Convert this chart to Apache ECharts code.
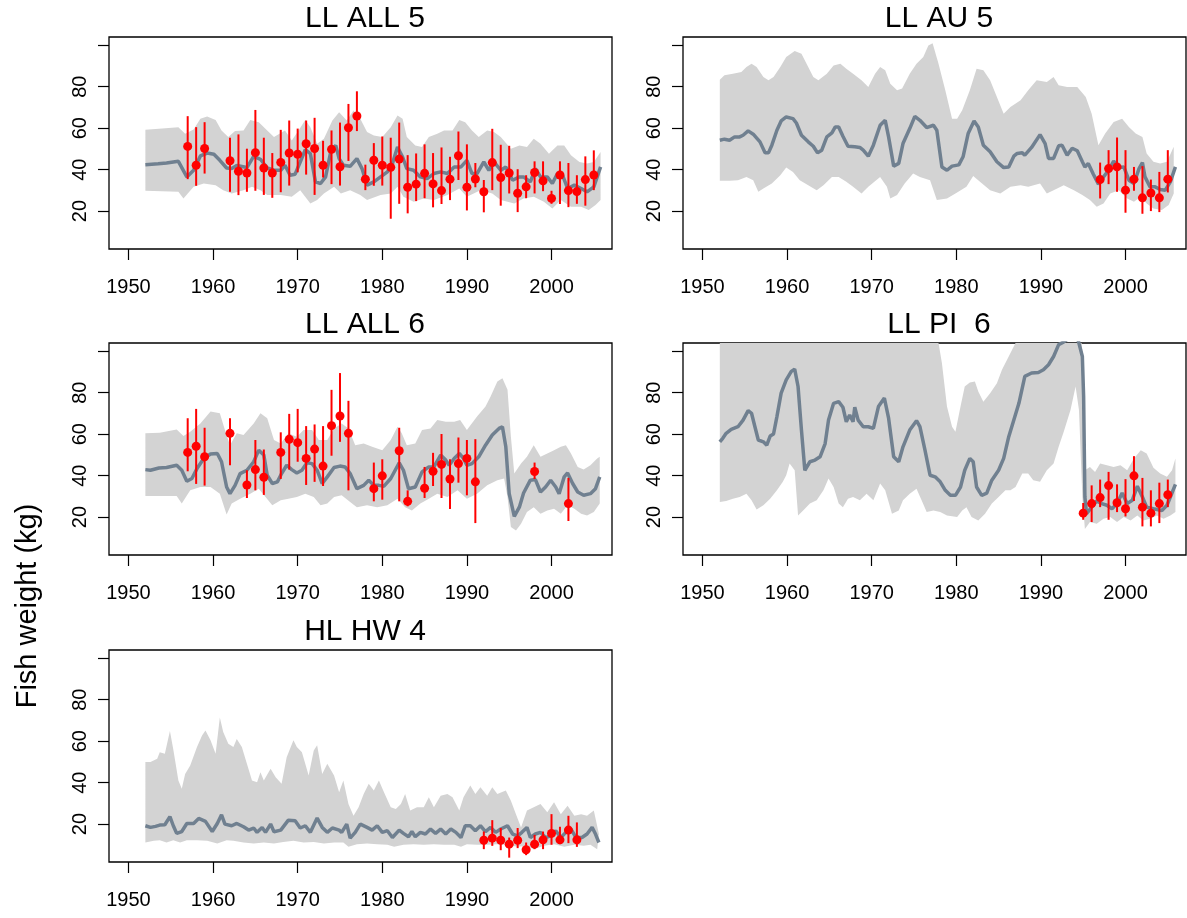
<!DOCTYPE html>
<html><head><meta charset="utf-8">
<script src="https://cdn.jsdelivr.net/npm/echarts@6/dist/echarts.min.js"></script>
<style>html,body{margin:0;padding:0;background:#fff}#c{width:1187px;height:918px}</style>
</head><body><div id="c"></div>
<script>
const titles = ['LL ALL 5', 'LL AU 5', 'LL ALL 6', 'LL PI  6', 'HL HW 4'];
const yAxisTitle = 'Fish weight (kg)';
const xTicks = [1950, 1960, 1970, 1980, 1990, 2000];
const yTicks = [20, 40, 60, 80, 100];
const yLabels = [20, 40, 60, 80];

// ---- LL ALL 5 ----
const all5Mean = [[1952.0,42.4],[1953.5,42.8],[1954.5,43.2],[1955.9,44],[1956.9,36.5],[1957.7,39.7],[1958.5,46.6],[1959.3,48],[1960.1,47.4],[1960.8,44.5],[1961.6,40.8],[1962.2,40.5],[1962.8,42],[1964.0,41],[1964.8,46.4],[1965.6,45],[1966.4,40.8],[1967.2,39.7],[1968.0,39.7],[1968.5,42.1],[1969.1,37.3],[1969.7,37.8],[1970.3,43.7],[1970.9,49.6],[1971.5,47.7],[1972.1,34.1],[1972.7,33.3],[1973.3,36.5],[1973.9,48.5],[1974.5,51.7],[1974.9,45.3],[1975.4,42.1],[1976.2,41.6],[1977.0,45.3],[1977.6,40.5],[1978.2,32.5],[1979.0,34.1],[1979.8,36.5],[1980.6,38.9],[1981.2,42.9],[1981.8,50.9],[1982.4,46.1],[1982.9,40.5],[1983.7,39.7],[1984.5,36.5],[1985.3,35.7],[1986.1,38.1],[1986.9,38.9],[1987.7,38.1],[1988.5,41.3],[1989.3,41.3],[1990.0,44.5],[1990.6,38.1],[1991.2,38.1],[1992.0,43.7],[1992.6,39.7],[1993.2,43.7],[1994.0,39.7],[1994.6,41.3],[1995.4,34.9],[1996.2,36.5],[1996.7,36.5],[1997.5,34.1],[1998.1,40.5],[1998.7,36.5],[1999.5,36.5],[2000.1,33.3],[2000.7,38.1],[2001.3,37.3],[2001.9,30.9],[2002.7,32.5],[2003.5,30.9],[2004.2,29.3],[2005.0,31.7],[2005.8,41.3]];
const all5Upper = [[1952.0,59.2],[1953.6,59.7],[1955.9,60.5],[1956.7,57.3],[1957.7,59.4],[1958.5,64.5],[1959.3,65.6],[1960.3,64],[1961.0,58.9],[1961.8,55.7],[1962.6,58.6],[1963.6,58.9],[1964.4,64],[1965.4,62.9],[1966.4,58.9],[1967.2,55.7],[1968.5,58.9],[1969.3,54.1],[1970.1,58.9],[1970.9,64],[1971.5,60.5],[1972.3,52.5],[1973.1,54.9],[1974.1,63.7],[1974.9,67.7],[1975.8,63.7],[1976.6,68.5],[1977.4,64.5],[1978.2,58.1],[1979.0,56.5],[1980.0,55.7],[1981.0,60.5],[1981.8,66.1],[1982.4,64.5],[1982.9,55.7],[1983.9,51.7],[1984.7,50.9],[1985.5,55.7],[1986.5,57.3],[1987.3,58.9],[1988.3,58.9],[1989.1,64],[1989.8,62.9],[1990.6,58.9],[1991.4,55.7],[1992.4,58.9],[1993.2,58.1],[1994.0,55.7],[1995.2,50.1],[1996.2,51.7],[1997.1,50.9],[1997.9,54.9],[1998.7,52.5],[1999.7,47.7],[2000.7,51.7],[2001.5,51.7],[2002.3,46.9],[2003.3,43.7],[2004.2,42.9],[2005.0,43.7],[2005.8,48.5]];
const all5Lower = [[1952.0,29.8],[1955.9,29.3],[1956.5,26.1],[1957.7,31.7],[1958.9,33.3],[1960.3,32.5],[1961.2,30.1],[1962.2,28.5],[1963.6,30.1],[1964.6,31.7],[1965.6,30.1],[1966.4,27.7],[1968.0,27.7],[1969.3,26.9],[1970.3,30.1],[1971.5,23.7],[1972.3,25.3],[1973.1,28.5],[1974.3,31.7],[1975.1,28.5],[1976.2,30.1],[1977.4,27.7],[1978.2,25.3],[1979.8,27.7],[1981.0,28.5],[1981.8,31.7],[1982.5,26.9],[1983.7,24.5],[1984.9,26.1],[1986.1,25.3],[1987.7,27.7],[1989.1,30.9],[1990.0,26.9],[1991.6,30.1],[1993.0,28.5],[1994.0,25.3],[1995.6,23.7],[1996.7,26.1],[1997.9,26.9],[1999.1,24.5],[2000.1,21.3],[2001.1,25.3],[2002.3,22.1],[2003.5,22.1],[2004.4,20.5],[2005.2,22.9],[2005.8,25.3]];
const all5ObsYears = [1957,1958,1959,1962,1963,1964,1965,1966,1967,1968,1969,1970,1971,1972,1973,1974,1975,1976,1977,1978,1979,1980,1981,1982,1983,1984,1985,1986,1987,1988,1989,1990,1991,1992,1993,1994,1995,1996,1997,1998,1999,2000,2001,2002,2003,2004,2005];
const all5Obs = [51.2,42.1,50.2,44.3,39.2,38.4,48.2,40.8,38.4,43.5,48,47.4,52.5,50.2,42.1,49.8,41.4,60.2,65.9,35.4,44.5,42.1,41.1,45.1,31.5,33,38.2,33.1,29.9,35.4,46.7,31.5,35.5,29.3,43.4,36.2,38.4,28.6,31.7,38.6,34.6,26.1,37.4,29.9,29.4,35.2,37.4];
const all5ObsHigh = [65.8,60.5,62.9,55.4,57,50.1,68.8,55.4,48,59.2,63.7,59.8,63.7,65,53.9,58.9,62.7,71.7,77.8,42.4,52.8,56,55.4,62.7,47,47.8,52.2,48,50.7,46.2,58.4,52.2,43.2,35,59.7,52,51.5,40.2,37.3,44,44,29.8,44,43.2,37.3,46.4,49.3];
const all5ObsLow = [35.4,32.2,38.1,29.3,27.7,29.3,29.8,27.8,26.4,29.1,32.3,38.7,37.6,27.8,36.2,33,32.3,44.2,58.6,30.1,32.2,32.3,16.3,23.5,18.9,24.8,26.2,21.8,23.4,25.3,35,20.3,31.5,19.4,30.1,22.6,28.5,19.5,26.2,28.5,29.6,23.5,23.4,21.9,23.5,22.6,30.1];

// ---- LL AU 5 ----
const au5Mean = [[1952.05,54.2],[1952.6,54.7],[1953.2,54.2],[1953.8,55.8],[1954.4,55.8],[1954.8,56.6],[1955.4,58.7],[1956.0,57.1],[1956.8,53.4],[1957.4,48.1],[1957.8,48.1],[1958.2,51.8],[1958.8,59],[1959.3,63.5],[1959.9,65.4],[1960.7,64.6],[1961.1,62.5],[1961.7,56.6],[1962.5,53.4],[1963.1,51.3],[1963.6,48.1],[1964.1,49.4],[1964.7,55.8],[1965.3,57.7],[1965.7,60.6],[1966.1,60.6],[1966.6,56.1],[1967.2,51.3],[1968.0,51],[1968.6,50.7],[1969.0,49.4],[1969.6,46.5],[1970.2,51.8],[1971.0,61.4],[1971.6,63.8],[1972.0,55.8],[1972.6,41.7],[1973.2,43],[1973.7,52.6],[1974.5,59.8],[1975.1,65.7],[1975.7,63.8],[1976.5,60.3],[1977.3,61.4],[1977.7,59],[1978.3,41.3],[1978.9,39.7],[1979.5,41.7],[1980.3,42.3],[1980.8,46.2],[1981.4,57.4],[1982.1,63.5],[1982.6,60.6],[1983.2,51.8],[1984.0,48.6],[1984.8,43.8],[1985.6,41],[1986.2,41.3],[1986.8,46.5],[1987.2,47.8],[1987.8,48.1],[1988.1,47],[1988.9,50.7],[1989.9,56.9],[1990.5,52.6],[1990.9,45.4],[1991.5,45.4],[1992.1,51.5],[1992.5,51.8],[1993.1,47],[1993.7,50.3],[1994.3,49.1],[1994.9,43.8],[1995.2,41.3],[1995.6,43],[1996.2,37.8],[1996.8,33],[1997.4,36.5],[1998.0,39.7],[1998.6,44.1],[1999.2,41],[1999.8,41.3],[2000.4,34.9],[2001.0,33.3],[2001.6,40.5],[2002.0,43.4],[2002.3,36.5],[2002.9,31.7],[2003.5,31.7],[2004.1,30.4],[2004.7,30.1],[2005.3,34.1],[2005.9,41.3]];
const au5Upper = [[1952.05,83.4],[1952.6,85.5],[1953.6,86.3],[1954.6,87.1],[1955.2,89.5],[1955.8,91.1],[1956.4,89.5],[1957.2,84.7],[1957.8,83.1],[1958.4,84.7],[1959.2,89.5],[1959.9,94.3],[1960.9,97.2],[1961.7,95.9],[1962.5,89.5],[1963.1,84.7],[1963.7,83.1],[1964.7,86.3],[1965.5,90.3],[1966.3,91.1],[1967.0,88.7],[1967.8,86.3],[1968.8,83.1],[1969.6,79.9],[1970.4,86.3],[1971.0,89.5],[1971.6,87.9],[1972.2,81.5],[1973.0,78.3],[1973.6,79.1],[1974.5,86.3],[1975.3,91.1],[1976.1,94.3],[1976.7,99.9],[1977.2,101],[1977.9,91.1],[1978.7,78.3],[1979.5,64.6],[1980.1,64.6],[1980.7,68.6],[1981.6,78.3],[1982.4,88.7],[1983.2,87.9],[1984.0,83.1],[1984.8,75],[1985.6,67],[1986.4,70.2],[1987.6,73.5],[1988.5,78.3],[1989.5,83.1],[1990.7,82.3],[1991.5,84.7],[1992.1,80.7],[1993.1,79.9],[1994.3,79.9],[1995.3,75],[1996.0,67],[1996.8,51.8],[1997.6,57.4],[1998.6,63],[1999.6,64.6],[2000.4,60.6],[2001.2,57.4],[2002.0,55.8],[2002.5,47.8],[2003.3,43.8],[2004.1,43],[2004.9,43.8],[2005.7,51]];
const au5Lower = [[1952.05,34.6],[1953.2,34.6],[1954.2,34.9],[1955.2,36.5],[1956.0,34.9],[1956.6,29.3],[1957.2,30.9],[1958.2,33.3],[1959.2,37.3],[1959.9,41],[1960.7,38.9],[1961.5,34.9],[1962.5,32.5],[1963.5,30.1],[1964.3,32.5],[1965.3,36.5],[1966.1,36.5],[1967.0,34.1],[1967.8,31.7],[1968.8,28.5],[1969.6,31.7],[1971.0,36.5],[1971.8,31.7],[1972.2,26.1],[1973.0,27.7],[1973.9,33.3],[1974.9,38.1],[1975.7,36.5],[1976.9,34.9],[1977.7,25.3],[1978.9,26.1],[1979.9,28.5],[1981.2,31.7],[1982.0,36.9],[1982.8,34.1],[1984.0,30.1],[1985.2,28.5],[1986.4,31.7],[1987.6,32.5],[1988.5,31.7],[1989.9,33.3],[1990.7,28.5],[1991.5,30.1],[1992.7,32.5],[1993.9,30.1],[1994.9,27.7],[1995.8,25.3],[1996.6,22.1],[1997.4,23.7],[1998.2,28.5],[1999.2,30.1],[2000.2,26.1],[2001.0,24.5],[2001.8,26.9],[2002.5,23.7],[2003.3,21.3],[2004.3,20.5],[2005.1,22.9],[2005.7,28.5]];
const au5ObsYears = [1997,1998,1999,2000,2001,2002,2003,2004,2005];
const au5Obs = [35.2,40.5,41.3,30.1,35.4,26.4,28.7,26.4,35.4];
const au5ObsHigh = [43.4,49.4,55.5,49.4,41.3,41.7,35.2,38.9,49.4];
const au5ObsLow = [26.1,33,29.3,19.2,29.8,18.7,20,19.5,29];

// ---- LL ALL 6 ----
const all6Mean = [[1952.0,42.9],[1952.6,42.6],[1953.6,43.7],[1954.5,43.9],[1955.7,45],[1956.3,42.6],[1956.9,37.3],[1957.5,38.6],[1958.1,43.4],[1958.9,48.3],[1959.7,50.4],[1960.5,50.7],[1961.0,46.7],[1961.6,34.5],[1962.0,31.3],[1962.6,35.3],[1963.2,41],[1964.0,42.6],[1964.8,46.7],[1965.4,52.3],[1966.0,49.9],[1966.4,40.2],[1967.0,36.2],[1967.6,37],[1968.1,41],[1968.7,45],[1969.3,42.9],[1969.9,41.3],[1970.5,42.6],[1971.1,46.2],[1971.7,45.8],[1972.3,42.6],[1972.9,36.2],[1973.5,39.4],[1974.3,43.9],[1975.0,44.6],[1975.6,44.2],[1976.2,41],[1977.0,33.7],[1977.8,35.3],[1978.4,37.8],[1979.0,35.3],[1979.6,35.3],[1980.2,34.9],[1981.0,38.6],[1982.0,46.2],[1982.5,42.6],[1983.1,33.7],[1983.9,34.5],[1984.7,41.8],[1985.5,44.2],[1986.1,44.2],[1986.9,49.9],[1987.5,47.5],[1987.9,45],[1988.5,48.3],[1989.1,50.7],[1989.6,48.3],[1990.0,45],[1990.6,45.8],[1991.4,49.1],[1992.2,54.7],[1993.0,59.6],[1993.8,62.8],[1994.2,63.6],[1994.6,53.9],[1995.0,31.3],[1995.6,20.3],[1996.2,24.8],[1996.7,31.6],[1997.5,37.8],[1998.1,38.1],[1998.7,32.1],[1999.3,34.5],[1999.9,37.8],[2000.5,34.5],[2000.9,31.3],[2001.5,39.4],[2001.9,41.3],[2002.5,36.2],[2003.1,32.1],[2003.8,30.5],[2004.6,31.3],[2005.2,33.7],[2005.7,39.4]];
const all6Upper = [[1952.0,60.4],[1953.7,60.7],[1955.7,62.3],[1956.5,59.1],[1957.3,61.2],[1958.5,65.2],[1959.7,70.9],[1960.8,70.1],[1961.4,62],[1962.0,54.7],[1962.8,60.4],[1963.6,59.6],[1964.8,65.2],[1965.6,70.1],[1966.4,67.7],[1967.2,57.2],[1968.0,55.5],[1968.9,60.4],[1969.9,58.8],[1970.7,62],[1971.7,62],[1972.5,57.2],[1973.5,57.2],[1974.3,62.8],[1975.2,65.2],[1976.0,62.8],[1976.8,54.7],[1977.8,55.5],[1978.8,53.9],[1980.0,52.3],[1981.0,57.2],[1981.8,63.6],[1982.3,60.4],[1982.9,54.7],[1983.9,55.5],[1984.7,62],[1985.7,62.8],[1986.5,66.8],[1987.5,66],[1988.5,66],[1989.2,66.8],[1990.0,62],[1991.2,68.5],[1992.2,73.3],[1992.8,78.2],[1993.6,85.4],[1994.2,87],[1994.8,81.4],[1995.2,58.8],[1995.6,41],[1996.4,45.8],[1997.1,49.1],[1997.9,54.7],[1998.7,49.1],[1999.5,50.7],[2000.3,52.3],[2001.1,53.9],[2001.7,54.7],[2002.3,50.7],[2003.1,44.2],[2003.8,42.9],[2004.6,45],[2005.4,48.3],[2005.7,49.1]];
const all6Lower = [[1952.0,30.2],[1955.7,30.2],[1956.3,26.5],[1957.3,32.9],[1958.5,34.5],[1959.7,34.5],[1960.8,31.3],[1961.6,21.3],[1962.2,26.5],[1963.2,28.9],[1964.4,31.3],[1965.4,33.7],[1966.2,29.7],[1967.0,25.7],[1968.0,28.1],[1968.9,28.9],[1969.9,29.7],[1970.9,31.3],[1971.9,29.7],[1972.7,25.7],[1973.5,26.5],[1974.3,29.7],[1975.2,30.5],[1976.2,27.3],[1977.0,24.8],[1978.2,25.7],[1979.4,24.8],[1980.6,25.7],[1981.8,28.9],[1982.7,24.8],[1983.5,23.2],[1984.5,26.5],[1985.5,28.9],[1986.5,31.3],[1987.7,29.7],[1988.9,32.9],[1990.0,28.9],[1991.2,31.3],[1992.4,35.3],[1993.6,37.8],[1994.4,38.6],[1994.8,29.7],[1995.2,15.2],[1995.8,13.5],[1996.4,16.8],[1997.1,22.4],[1997.9,24.8],[1998.7,21.6],[1999.5,23.2],[2000.3,24],[2001.1,21.6],[2001.9,25.7],[2002.7,24],[2003.5,21.6],[2004.2,20.8],[2005.0,22.4],[2005.7,26.5]];
const all6ObsYears = [1957,1958,1959,1962,1964,1965,1966,1968,1969,1970,1971,1972,1973,1974,1975,1976,1979,1980,1982,1983,1985,1986,1987,1988,1989,1990,1991,1998,2002];
const all6Obs = [51.2,54.2,49.1,60.4,35.5,42.9,39.2,51.2,57.5,55.9,48.3,52.8,44.6,64.1,68.8,60.4,33.7,39.9,52,27.6,33.9,42.1,45.4,38.4,45.8,48.3,37,42,26.5];
const all6ObsHigh = [67.7,72.2,63.1,67.7,42.6,57.2,52.6,60.9,69.8,72.2,63.9,64.7,63.9,81.4,89.5,76.1,46.3,47.9,63.1,32.9,44.2,51,60.1,47.9,58.4,57.2,57.6,46.3,38.9];
const all6ObsLow = [42.1,36,35.2,45,29.2,32.9,30.7,38.4,42.9,46.7,35.5,37,35,49.6,56.3,32.9,27.6,28.4,27.6,25.2,29.2,35,29.2,23.9,36.6,30.5,17.1,38.4,18.1];

// ---- LL PI 6 ----
const pi6Mean = [[1952.05,56.3],[1952.4,58],[1952.8,60.4],[1953.4,62.3],[1954.2,63.6],[1954.8,66.8],[1955.4,71.4],[1955.8,70.1],[1956.2,63.6],[1956.6,57.2],[1957.2,56.3],[1957.6,54.7],[1958.0,59.1],[1958.4,60.1],[1958.8,68.5],[1959.3,79.8],[1959.9,86.2],[1960.5,90.3],[1960.9,91.4],[1961.3,83],[1961.7,62],[1962.1,42.6],[1962.7,46.7],[1963.3,47.5],[1963.9,49.1],[1964.5,55.5],[1964.9,66.8],[1965.5,74.9],[1966.1,75.7],[1966.6,73],[1967.0,66],[1967.4,69.3],[1967.8,66],[1968.0,73],[1968.4,66.8],[1969.0,63.6],[1969.6,63.6],[1970.2,62.8],[1970.8,73.3],[1971.5,77.4],[1972.0,67.7],[1972.6,49.1],[1973.2,46.7],[1973.7,53.9],[1974.5,62],[1975.3,66.5],[1975.7,63.6],[1976.3,52.3],[1976.9,40.2],[1977.5,39.4],[1978.1,37],[1978.7,32.9],[1979.3,30.5],[1979.9,30.5],[1980.5,34.5],[1981.0,42.6],[1981.6,48.3],[1982.0,46.7],[1982.4,34.5],[1983.0,30.5],[1983.6,31.6],[1984.2,37.8],[1985.0,42.6],[1985.6,48.3],[1986.2,58.8],[1986.8,66.8],[1987.4,74.9],[1988.1,87.9],[1988.9,89.5],[1989.7,89.8],[1990.3,91.1],[1990.9,93.5],[1991.5,97.5],[1992.1,103.2],[1992.7,104.5],[1993.5,107],[1994.3,107],[1994.9,97.5],[1995.05,78.2],[1995.2,29.7],[1995.4,21.6],[1996.0,24.8],[1996.6,27.8],[1997.2,26.5],[1997.8,25.7],[1998.4,24],[1999.0,26.5],[1999.6,31.6],[2000.2,26.5],[2000.8,28.1],[2001.4,34.9],[2002.0,29.7],[2002.5,24.8],[2003.3,24],[2004.3,23.2],[2004.9,25.7],[2005.3,29.7],[2005.9,35.8]];
const pi6Upper = [[1952.05,115],[1977.5,115],[1977.9,104],[1978.3,94.3],[1978.9,73.3],[1979.5,63.6],[1979.9,61.2],[1980.5,73.3],[1981.0,83],[1981.6,84.9],[1982.2,85.4],[1982.6,80.6],[1983.2,75.7],[1984.0,79.8],[1984.8,84.6],[1985.4,91.1],[1986.0,95.9],[1986.6,100.8],[1987.0,104],[1987.3,115],[1994.6,115],[1994.9,100],[1995.1,80],[1995.2,42.6],[1995.8,44.2],[1996.4,41.8],[1997.0,45.8],[1997.8,45],[1998.6,44.2],[1999.4,45],[2000.2,42.6],[2001.0,48.3],[2001.8,52.3],[2002.5,50.7],[2003.3,43.8],[2004.1,41],[2004.9,39.4],[2005.5,42.6],[2005.9,48.3]];
const pi6Lower = [[1952.05,27.3],[1952.8,27.8],[1953.6,28.9],[1954.4,29.7],[1955.2,31.3],[1955.8,28.1],[1956.4,23.6],[1957.2,25.7],[1958.0,28.9],[1958.8,32.9],[1959.5,37],[1959.9,40.2],[1960.3,45.8],[1960.9,42.6],[1961.3,20.8],[1961.9,23.2],[1962.7,26.5],[1963.5,28.1],[1964.3,32.9],[1964.9,38.6],[1965.5,34.5],[1966.1,26.5],[1966.6,24.8],[1967.2,28.9],[1967.8,29.7],[1968.6,28.1],[1969.4,31.3],[1970.2,28.1],[1971.0,36.2],[1971.6,32.9],[1972.4,21.6],[1973.2,23.2],[1973.7,28.1],[1974.5,31.3],[1975.3,33.7],[1975.9,28.1],[1976.5,22.4],[1977.3,23.2],[1978.1,22.4],[1978.9,20.8],[1980.1,20],[1980.7,23.2],[1981.2,24.8],[1981.8,20],[1982.6,18.4],[1983.4,21.6],[1984.2,26.5],[1985.0,29.7],[1985.8,32.9],[1986.4,32.9],[1987.0,34.5],[1987.8,41],[1988.5,41],[1989.1,37.8],[1989.9,37],[1990.7,42.6],[1991.5,45.8],[1992.1,53.9],[1992.7,61.2],[1993.5,71.7],[1994.1,83],[1994.5,71.7],[1994.9,29.7],[1995.2,14.3],[1995.8,17.6],[1996.6,16.8],[1997.4,19.2],[1998.2,20],[1999.0,17.6],[1999.8,20],[2000.6,18.4],[2001.4,20.8],[2002.1,18.4],[2002.9,19.2],[2003.7,20.8],[2004.5,19.2],[2005.3,20.8],[2005.9,22.4]];
const pi6ObsYears = [1995,1996,1997,1998,1999,2000,2001,2002,2003,2004,2005];
const pi6Obs = [21.9,26.5,29.4,35.2,26.9,24,39.9,24.8,21.9,26.5,30.8];
const pi6ObsHigh = [26.8,35.3,38.1,41.8,35.8,38.3,49.4,38.9,32.9,36.6,38.1];
const pi6ObsLow = [18.7,17.6,24.8,18.7,22.4,20.3,27.8,15.5,15.5,17.1,24.8];

// ---- HL HW 4 ----
const hw4Mean = [[1952.0,19.2],[1952.6,18.4],[1953.2,18.9],[1953.7,19.5],[1954.3,19.7],[1954.5,20.3],[1954.9,23.6],[1955.3,19.2],[1955.7,15.5],[1956.3,16.4],[1956.9,20.3],[1957.7,20.3],[1958.3,22.7],[1959.1,21.3],[1959.9,16.4],[1960.5,20.3],[1961.0,24.5],[1961.4,20],[1962.2,19.2],[1962.8,20.3],[1963.6,18.7],[1964.2,17.1],[1964.8,18.1],[1965.2,16],[1965.8,18.4],[1966.2,16],[1966.8,20],[1967.2,16.3],[1968.0,17.1],[1968.9,21.9],[1969.7,21.6],[1970.3,18.1],[1970.9,19.2],[1971.5,16],[1972.3,22.9],[1972.9,18.4],[1973.5,16],[1974.1,18.1],[1974.9,17.1],[1975.2,16],[1975.8,20],[1976.2,13.2],[1976.8,16],[1977.4,20],[1978.2,18.4],[1978.8,17.1],[1979.4,19.2],[1980.0,16],[1980.6,16.8],[1981.2,13.5],[1982.0,17.1],[1982.5,15.5],[1983.1,13.9],[1983.5,16.4],[1983.9,13.9],[1984.5,16],[1985.1,15.2],[1985.7,17.6],[1986.3,15.5],[1986.9,17.6],[1987.5,15.2],[1988.1,17.6],[1988.7,16],[1989.3,13.5],[1989.8,19.2],[1990.4,19.2],[1991.0,16.8],[1991.6,19.2],[1992.2,16.4],[1992.8,18.4],[1993.4,16],[1994.0,17.6],[1994.8,19.2],[1995.4,15.2],[1996.0,14.3],[1996.5,16],[1997.1,18.4],[1997.5,13.5],[1998.1,15.2],[1998.7,16],[1999.3,13.5],[1999.9,14.3],[2000.5,16.8],[2001.1,13.5],[2001.7,16],[2002.3,17.6],[2002.9,13.5],[2003.6,13.5],[2004.2,15.2],[2004.8,18.4],[2005.2,15.2],[2005.6,11.1]];
const hw4Upper = [[1952.0,49.9],[1952.6,49.9],[1953.4,51.5],[1953.7,54.7],[1954.3,53.9],[1954.9,64.9],[1955.3,56],[1955.9,41],[1956.3,37],[1956.7,44.2],[1957.3,48.3],[1958.1,57.2],[1958.7,62.8],[1959.1,65.2],[1959.7,60.4],[1960.3,53.9],[1960.8,71.4],[1961.2,64.4],[1961.8,58.8],[1962.4,57.2],[1962.8,61],[1963.4,57.2],[1964.0,49.1],[1964.6,41],[1965.2,40.2],[1965.6,45],[1966.0,41],[1966.8,46.7],[1967.4,42.6],[1968.1,39.4],[1968.7,52.3],[1969.5,60.4],[1969.9,57.2],[1970.5,54.7],[1971.3,43.4],[1971.9,55.5],[1972.3,58],[1972.9,44.2],[1973.5,49.1],[1974.3,43.4],[1974.9,35.3],[1975.4,41],[1976.0,29.7],[1976.6,24],[1977.2,28.1],[1977.8,34.5],[1978.4,39.4],[1979.0,36.2],[1979.6,41],[1980.2,35.3],[1981.0,28.1],[1981.6,27.3],[1982.2,29.7],[1982.7,34.5],[1983.3,26.5],[1984.1,28.1],[1984.9,28.1],[1985.5,32.9],[1986.1,28.1],[1986.9,33.7],[1987.7,34.5],[1988.3,32.9],[1989.1,26.5],[1989.6,32.9],[1990.4,38.6],[1991.0,34.5],[1991.6,37.8],[1992.4,33.7],[1993.0,37.8],[1993.6,34.5],[1994.6,36.2],[1995.2,31.3],[1995.8,24.8],[1996.4,18.4],[1997.1,26.5],[1997.9,28.1],[1998.7,29.7],[1999.5,25.7],[2000.3,30.5],[2001.1,24.8],[2001.9,28.9],[2002.7,24],[2003.5,24.8],[2004.2,24],[2005.0,26.5],[2005.6,15.2]];
const hw4Lower = [[1952.0,11.1],[1953.0,11.9],[1953.7,12.2],[1954.5,11.1],[1955.3,12.2],[1956.1,11.1],[1956.9,12.2],[1958.1,12.2],[1959.3,11.9],[1960.5,10.6],[1961.6,12.2],[1962.4,11.9],[1963.6,11.1],[1964.8,10.6],[1966.0,11.1],[1967.2,10.6],[1968.3,11.4],[1969.5,11.9],[1970.7,11.1],[1971.9,11.4],[1973.1,10.6],[1974.3,11.1],[1975.4,11.1],[1976.0,9],[1977.0,10.3],[1978.2,10.6],[1979.4,10.3],[1980.6,10],[1981.4,9],[1982.5,10],[1983.7,10.3],[1984.9,10],[1986.1,10.3],[1987.3,10],[1988.5,10],[1989.3,9],[1990.0,10.3],[1991.2,10],[1992.4,10],[1993.6,10.3],[1994.8,10],[1996.0,9],[1997.1,9.5],[1997.9,7.9],[1999.1,9.5],[2000.3,10.3],[2001.5,9],[2002.7,10],[2003.8,9.5],[2004.6,10],[2005.4,7.9]];
const hw4ObsYears = [1992,1993,1994,1995,1996,1997,1998,1999,2000,2001,2002,2003];
const hw4Obs = [12.2,13.2,12.2,10.3,12.2,7.6,10.3,12.4,15.5,12.4,17.1,12.4];
const hw4ObsHigh = [16.4,21.9,18.1,13.5,18.1,11.1,14.8,16.4,24.8,18.7,24,20.8];
const hw4ObsLow = [7.9,9.5,7.4,3.8,8.4,5,7.9,7.9,10,10.3,10.8,9];

const panels = [
  {mean: all5Mean, upper: all5Upper, lower: all5Lower, years: all5ObsYears, obs: all5Obs, hi: all5ObsHigh, lo: all5ObsLow},
  {mean: au5Mean, upper: au5Upper, lower: au5Lower, years: au5ObsYears, obs: au5Obs, hi: au5ObsHigh, lo: au5ObsLow},
  {mean: all6Mean, upper: all6Upper, lower: all6Lower, years: all6ObsYears, obs: all6Obs, hi: all6ObsHigh, lo: all6ObsLow},
  {mean: pi6Mean, upper: pi6Upper, lower: pi6Lower, years: pi6ObsYears, obs: pi6Obs, hi: pi6ObsHigh, lo: pi6ObsLow},
  {mean: hw4Mean, upper: hw4Upper, lower: hw4Lower, years: hw4ObsYears, obs: hw4Obs, hi: hw4ObsHigh, lo: hw4ObsLow}
];

// layout
const boxes = [
  {left: 109, top: 37}, {left: 683, top: 37},
  {left: 109, top: 343}, {left: 683, top: 343},
  {left: 109, top: 650}
];
const BW = 503, BH = 212;
const FONT = '"Liberation Sans", Arial, Helvetica, sans-serif';

const chart = echarts.init(document.getElementById('c'), null, {renderer: 'canvas'});

const grids = [], xAxes = [], yAxes = [], series = [], graphics = [];
panels.forEach((p, i) => {
  const b = boxes[i];
  grids.push({left: b.left, top: b.top, width: BW, height: BH, show: true,
    borderColor: '#000', borderWidth: 1.3, backgroundColor: 'transparent'});
  xAxes.push({gridIndex: i, type: 'value', min: 1947.7, max: 2007.15,
    splitLine: {show: false}, axisLine: {show: false},
    axisTick: {show: true, length: 11, customValues: xTicks, lineStyle: {color: '#000', width: 1.2}},
    axisLabel: {customValues: xTicks, margin: 28, fontSize: 20, color: '#000', fontFamily: FONT,
      formatter: v => String(v)}});
  yAxes.push({gridIndex: i, type: 'value', min: 1.7, max: 104,
    splitLine: {show: false}, axisLine: {show: false},
    axisTick: {show: true, length: 11, customValues: yTicks, lineStyle: {color: '#000', width: 1.2}},
    axisLabel: {customValues: yLabels, rotate: 90, margin: 19, fontSize: 20, color: '#000', fontFamily: FONT,
      formatter: v => String(v)}});

  const upper = p.upper, lower = p.lower;
  series.push({type: 'custom', xAxisIndex: i, yAxisIndex: i, z: 1, silent: true, clip: true,
    data: [0],
    renderItem: function (params, api) {
      const pts = [];
      upper.forEach(q => pts.push(api.coord(q)));
      for (let k = lower.length - 1; k >= 0; k--) pts.push(api.coord(lower[k]));
      const cs = params.coordSys;
      return {type: 'group',
        clipPath: {type: 'rect', shape: {x: cs.x, y: cs.y, width: cs.width, height: cs.height}},
        children: [{type: 'polygon', shape: {points: pts}, style: {fill: '#d3d3d3', stroke: null}}]};
    }});
  series.push({type: 'line', xAxisIndex: i, yAxisIndex: i, z: 2, silent: true, clip: true,
    data: p.mean, showSymbol: false, smooth: false,
    lineStyle: {color: '#708090', width: 3.5}});
  series.push({type: 'custom', xAxisIndex: i, yAxisIndex: i, z: 3, silent: true,
    data: p.years.map((y, k) => [y, p.lo[k], p.hi[k]]),
    encode: {x: 0, y: [1, 2]},
    renderItem: function (params, api) {
      const a = api.coord([api.value(0), api.value(1)]);
      const c = api.coord([api.value(0), api.value(2)]);
      return {type: 'line', shape: {x1: a[0], y1: a[1], x2: c[0], y2: c[1]},
        style: {stroke: '#ff0000', lineWidth: 2}};
    }});
  series.push({type: 'scatter', xAxisIndex: i, yAxisIndex: i, z: 4, silent: true,
    data: p.years.map((y, k) => [y, p.obs[k]]),
    symbol: 'circle', symbolSize: 9, itemStyle: {color: '#ff0000', opacity: 1}});

  graphics.push({type: 'text', x: b.left + BW / 2 + 4.5, y: b.top - 18,
    style: {text: titles[i], font: '30px ' + FONT, fill: '#000', align: 'center', verticalAlign: 'middle'}});
});

graphics.push({type: 'text', x: 28, y: 606, rotation: Math.PI / 2,
  style: {text: yAxisTitle, font: '29px ' + FONT, fill: '#000', align: 'center', verticalAlign: 'middle'}});

chart.setOption({
  animation: false,
  backgroundColor: '#ffffff',
  grid: grids, xAxis: xAxes, yAxis: yAxes, series: series, graphic: graphics
});
</script>
</body></html>
